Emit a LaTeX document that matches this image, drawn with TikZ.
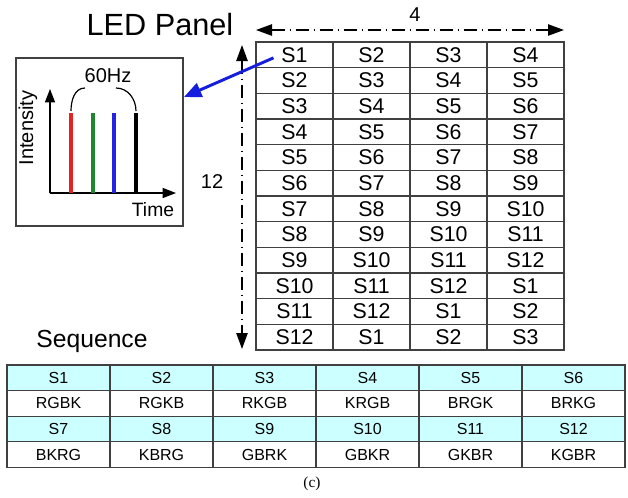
\documentclass[tikz,border=0pt]{standalone}
\usepackage{fontspec}
\setmainfont{Liberation Sans}
\newfontfamily\capfont{Liberation Serif}
\usepackage{tikz}
\usetikzlibrary{arrows.meta, calc}
\definecolor{seqcyan} {RGB}{204, 255, 255}
\definecolor{barred}  {RGB}{228,  35,  35}
\definecolor{bargreen}{RGB}{ 30, 135,  45}
\definecolor{barblue} {RGB}{ 35,  35, 225}
\definecolor{linkblue}{RGB}{ 20,  30, 220}
\tikzset{
	cell/.style={draw=black!75, line width=1pt, minimum width=57.75pt, minimum height=19.25pt,
		inner sep=0pt, font=\fontsize{16}{18}\selectfont},
	seqhead/.style={draw=black!75, line width=1pt, fill=seqcyan, minimum width=77.25pt,
		minimum height=19.2pt, inner sep=0pt, font=\fontsize{12}{14}\selectfont},
	seqcell/.style={seqhead, fill=white},
	dimline/.style={line width=1.1pt, dash pattern=on 10pt off 3.5pt on 1pt off 3.5pt,
		{Triangle[length=12pt,width=8.5pt]}-{Triangle[length=12pt,width=8.5pt]}},
	axis/.style={line width=1pt, -{Triangle[length=10pt,width=7.5pt]}},
	bar/.style={line width=2.3pt},
	linkarrow/.style={linkblue, line width=2.2pt, -{Triangle[length=13pt,width=11pt]}}
}

\begin{document}
\begin{tikzpicture}[x=0.75pt, y=-0.75pt]
	\useasboundingbox (0,0) rectangle (628,497);
	\node[font=\fontsize{23}{26}\selectfont] (title) at (160,25) {LED Panel};
	\foreach \r in {0,...,11}
		\foreach \c in {0,...,3}{
			\pgfmathtruncatemacro{\s}{mod(\r+\c,12)+1}
			\node[cell] (g-\r-\c) at (294.5+77*\c, 54.83+25.67*\r) {S\s};
		}
	\coordinate (hl) at (256,30);
	\coordinate (hr) at (564,30);
	\coordinate (vt) at (242,45);
	\coordinate (vb) at (242,349);
	\draw[dimline] (hl) -- (hr);
	\draw[dimline] (vt) -- (vb);
	\node[font=\fontsize{15}{17}\selectfont] (ncol) at (415,15) {4};
	\node[font=\fontsize{15}{17}\selectfont] (nrow) at (212,182) {12};

	\node[draw=black!75, line width=1.1pt, minimum width=125.25pt, minimum height=126pt] (inset) at (99.5,142) {};
	\coordinate (org) at (50,193);
	\draw[axis] (org) -- (50,89);
	\draw[axis] (org) -- (176,193);
	\foreach \x/\col in {71/barred, 93/bargreen, 114/barblue, 136/black}
		\draw[bar,\col] (\x,193) -- (\x,113);
	\draw[line width=0.9pt] (71,111) to[out=90,in=180] (85,88);
	\draw[line width=0.9pt] (116,88) to[out=0,in=90] (136,111);
	\node[font=\fontsize{15}{17}\selectfont] (freq) at (108,76) {60Hz};
	\node[font=\fontsize{15}{17}\selectfont, rotate=90] (ylab) at (28,128) {Intensity};
	\node[font=\fontsize{14.5}{17}\selectfont] (xlab) at (153,210) {Time};
	\coordinate (tip) at (184,97);
	\draw[linkarrow] ($(g-0-0.center)+(-21,3)$) -- (tip);

	\node[font=\fontsize{18.5}{21}\selectfont] (seq) at (92,341) {Sequence};
	\foreach \sq [count=\i from 0] in {RGBK,RGKB,RKGB,KRGB,BRGK,BRKG,BKRG,KBRG,GBRK,GBKR,GKBR,KGBR}{
		\pgfmathtruncatemacro{\cl}{mod(\i,6)}
		\pgfmathtruncatemacro{\rw}{2*int(\i/6)}
		\pgfmathtruncatemacro{\n}{\i+1}
		\node[seqhead] (h-\n) at (58.5+103*\cl, 377.8+25.6*\rw) {S\n};
		\node[seqcell] (q-\n) at (58.5+103*\cl, 403.4+25.6*\rw) {\sq};
	}
	\node[font=\capfont\fontsize{11.5}{13}\selectfont] (cap) at (312,484) {(c)};
\end{tikzpicture}
\end{document}
